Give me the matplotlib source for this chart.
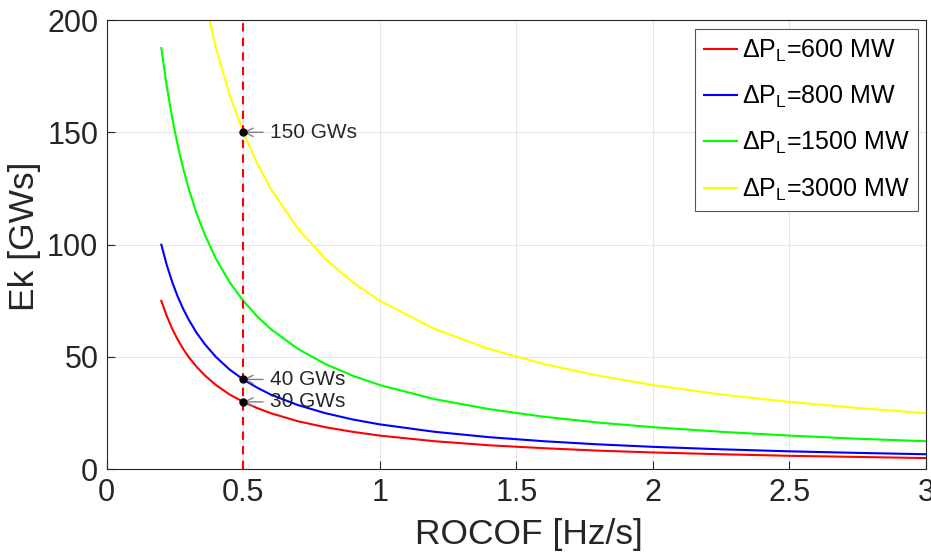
import matplotlib
matplotlib.use("Agg")
import matplotlib.pyplot as plt

plt.rcParams['font.family'] = ['Liberation Sans', 'DejaVu Sans']
plt.rcParams['mathtext.fontset'] = 'custom'
plt.rcParams['mathtext.rm'] = 'Liberation Sans'
plt.rcParams['mathtext.it'] = 'Liberation Sans:italic'

# ROCOF values (Hz/s) and kinetic energy (GWs)
rocof = [0.2, 0.22, 0.24, 0.26, 0.28, 0.3, 0.33, 0.36, 0.4, 0.45, 0.5, 0.55, 0.6,
         0.7, 0.8, 0.9, 1.0, 1.2, 1.4, 1.6, 1.8, 2.0, 2.25, 2.5, 2.75, 3.0]
ek_600 = [75, 68.2, 62.5, 57.7, 53.6, 50, 45.5, 41.7, 37.5, 33.3, 30, 27.3, 25,
          21.4, 18.75, 16.7, 15, 12.5, 10.7, 9.4, 8.3, 7.5, 6.7, 6, 5.5, 5]
ek_800 = [100, 90.9, 83.3, 76.9, 71.4, 66.7, 60.6, 55.6, 50, 44.4, 40, 36.4, 33.3,
          28.6, 25, 22.2, 20, 16.7, 14.3, 12.5, 11.1, 10, 8.9, 8, 7.3, 6.7]
ek_1500 = [187.5, 170.5, 156.3, 144.2, 133.9, 125, 113.6, 104.2, 93.75, 83.3, 75, 68.2, 62.5,
           53.6, 46.9, 41.7, 37.5, 31.25, 26.8, 23.4, 20.8, 18.75, 16.7, 15, 13.6, 12.5]
ek_3000 = [375, 340.9, 312.5, 288.5, 267.9, 250, 227.3, 208.3, 187.5, 166.7, 150, 136.4, 125,
           107.1, 93.75, 83.3, 75, 62.5, 53.6, 46.9, 41.7, 37.5, 33.3, 30, 27.3, 25]

series = [ek_600, ek_800, ek_1500, ek_3000]
labels = [r'$\Delta$P$_\mathregular{L}$=600 MW', r'$\Delta$P$_\mathregular{L}$=800 MW',
          r'$\Delta$P$_\mathregular{L}$=1500 MW', r'$\Delta$P$_\mathregular{L}$=3000 MW']
colors = ['#ff0000', '#0000ff', '#00ff00', '#ffff00']

# marked points at ROCOF = 0.5 Hz/s
mark_x = 0.5
mark_y = [150, 40, 30]
mark_text = ['150 GWs', '40 GWs', '30 GWs']

fig = plt.figure(figsize=(9.31, 5.54), dpi=100)
ax = fig.add_axes([106.7 / 931, (554 - 469.3) / 554, (926 - 106.7) / 931, (469.3 - 20) / 554])

for ys, lab, c in zip(series, labels, colors):
    ax.plot(rocof, ys, color=c, lw=1.5, label=lab)

ax.axvline(mark_x, color='#ff0000', lw=1.5, ls=(0, (4, 3)))
ax.plot([mark_x] * len(mark_y), mark_y, 'o', color='black', ms=5, zorder=5)

for y, t in zip(mark_y, mark_text):
    ax.annotate(t, xy=(mark_x, y), xytext=(0.598, y), fontsize=15, color='#262626',
                va='center', ha='left',
                arrowprops=dict(arrowstyle='->', color='gray', lw=1, shrinkA=3, shrinkB=0))

ax.set_xlim(0, 3)
ax.set_ylim(0, 200)
ax.set_xticks([0, 0.5, 1, 1.5, 2, 2.5, 3])
ax.set_xticklabels(['0', '0.5', '1', '1.5', '2', '2.5', '3'])
ax.set_yticks([0, 50, 100, 150, 200])
ax.grid(True, color='#e6e6e6', lw=0.8)
ax.set_axisbelow(True)
ax.tick_params(direction='in', labelsize=22, colors='#262626', length=6, width=0.8, pad=6)
for sp in ax.spines.values():
    sp.set_color('#262626')
    sp.set_linewidth(0.8)

ax.set_xlabel('ROCOF [Hz/s]', fontsize=25.5, color='#262626')
ax.set_ylabel('Ek [GWs]', fontsize=25.5, color='#262626')
ax.xaxis.set_label_coords(0.5155, -0.108)
ax.yaxis.set_label_coords(-0.080, 0.518)

leg = ax.legend(loc='upper right', bbox_to_anchor=(0.990, 0.980), fontsize=18,
                fancybox=False, edgecolor='#555555', framealpha=1,
                handlelength=1.3, handletextpad=0.2, labelspacing=0.8,
                borderaxespad=0, borderpad=0.35)
leg.get_frame().set_linewidth(0.8)

fig.savefig('out.png', dpi=100)
